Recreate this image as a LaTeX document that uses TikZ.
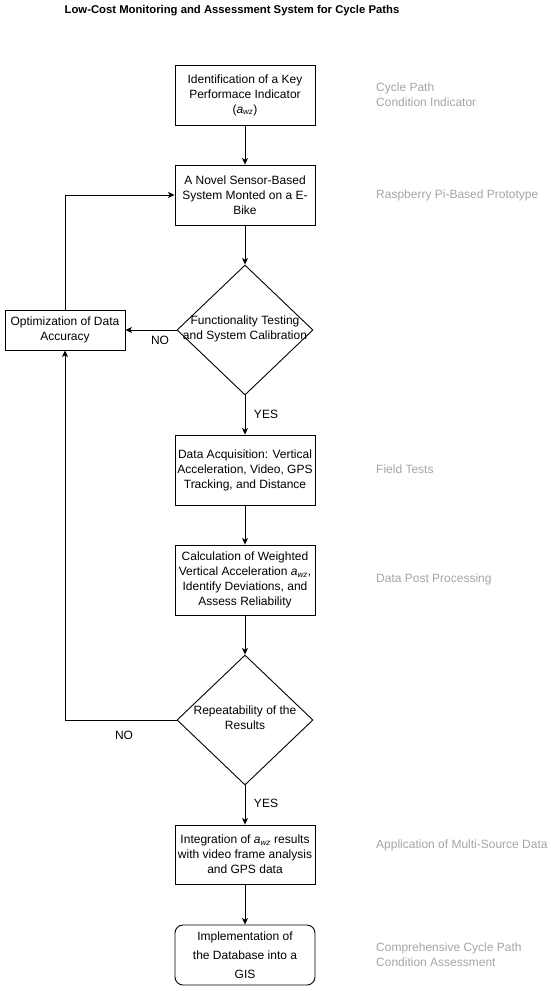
\documentclass[tikz,border=0pt]{standalone}
\usepackage{fontspec}
\setmainfont{Liberation Sans}
\usetikzlibrary{arrows.meta,shapes.geometric}
\definecolor{sidegray}{RGB}{165,165,165}
\begin{document}
\begin{tikzpicture}[x=1pt,y=-1pt,
  every node/.style={font=\fontsize{12}{15}\selectfont},
  procbox/.style={draw,line width=0.9pt,minimum width=140pt,inner sep=0pt,align=center},
  decision/.style={draw,diamond,line width=0.9pt,minimum width=136pt,minimum height=130pt,inner sep=0pt},
  sidelabel/.style={anchor=west,align=left,text=sidegray,inner sep=0pt},
  flow/.style={line width=0.9pt,-{Stealth[length=6.5pt,width=6pt,inset=1.6pt]}},
  plain/.style={line width=0.9pt},
  answer/.style={inner sep=0pt}]
\useasboundingbox (0,0) rectangle (550,991);
\node[inner sep=0pt,font=\fontsize{11.3}{13}\selectfont\bfseries] (title) at (232,11) {Low-Cost Monitoring and Assessment System for Cycle Paths};

\node[procbox,minimum height=60pt] (b1) at (245,95) {Identification of a Key\\Performace Indicator\\(\textit{a}\textsubscript{\textit{wz}})};
\node[procbox,minimum height=60pt] (b2) at (245,195) {A Novel Sensor-Based\\System Monted on a E-\\Bike};
\node[decision] (d1) at (245,330) {};
\node[inner sep=0pt,align=center] (d1t) at (245,329) {Functionality Testing\\and System Calibration};
\node[procbox,minimum width=120pt,minimum height=40pt] (opt) at (65,330) {Optimization of Data\\Accuracy};
\node[procbox,minimum height=70pt] (b3) at (245,470) {Data Acquisition: Vertical\\Acceleration, Video, GPS\\Tracking, and Distance};
\node[procbox,minimum height=70pt] (b4) at (245,580) {Calculation of Weighted\\Vertical Acceleration \textit{a}\textsubscript{\textit{wz}},\\Identify Deviations, and\\Assess Reliability};
\node[decision] (d2) at (245,720) {};
\node[inner sep=0pt,align=center] (d2t) at (245,718) {Repeatability of the\\Results};
\node[procbox,minimum height=59pt] (b5) at (245,854.5) {Integration of \textit{a}\textsubscript{\textit{wz}} results\\with video frame analysis\\and GPS data};
\node[procbox,minimum height=60pt,rounded corners=8pt,font=\fontsize{12}{19}\selectfont] (b6) at (245,955) {Implementation of\\the Database into a\\GIS};

\node[sidelabel] (r1) at (376,94.5) {Cycle Path\\Condition Indicator};
\node[sidelabel] (r2) at (376,195) {Raspberry Pi-Based Prototype};
\node[sidelabel] (r3) at (376,469) {Field Tests};
\node[sidelabel] (r4) at (376,579) {Data Post Processing};
\node[sidelabel] (r5) at (376,845) {Application of Multi-Source Data};
\node[sidelabel] (r6) at (376,954.5) {Comprehensive Cycle Path\\Condition Assessment};

\draw[flow] (b1.south) -- (b2.north);
\draw[flow] (b2.south) -- (d1.north);
\draw[flow] (d1.west) -- (opt.east);
\draw[flow] (opt.north) |- (b2.west);
\draw[flow] (d1.south) -- (b3.north);
\draw[flow] (b3.south) -- (b4.north);
\draw[flow] (b4.south) -- (d2.north);
\draw[flow] (d2.west) -| (opt.south);
\draw[flow] (d2.south) -- (b5.north);
\draw[flow] (b5.south) -- (b6.north);

\node[answer] (no1) at (160,340) {NO};
\node[answer] (yes1) at (266,414) {YES};
\node[answer] (no2) at (124,735) {NO};
\node[answer] (yes2) at (266,803) {YES};
\end{tikzpicture}
\end{document}
